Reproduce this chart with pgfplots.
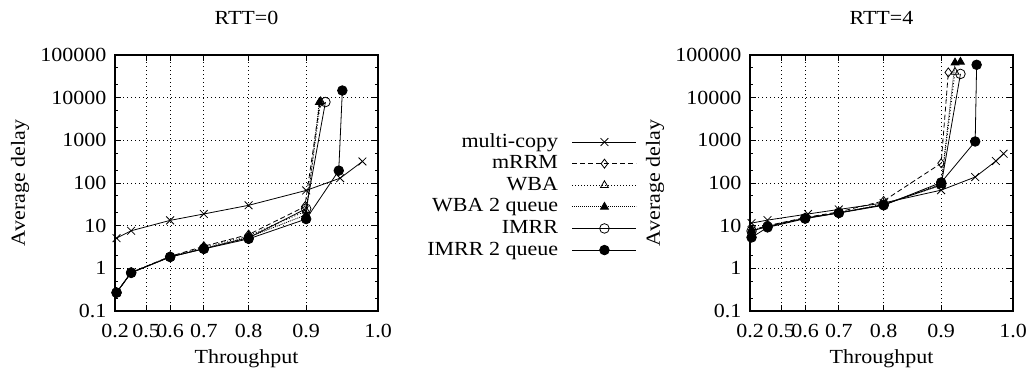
\documentclass[border=0pt]{standalone}
\usepackage{fontspec}
\setmainfont{Liberation Serif}[FakeStretch=1.1]
\usepackage{pgfplots}
\pgfplotsset{compat=1.18}

% line and mark styles of the six schedulers
\tikzset{
  mcopy/.style={black, line width=0.8bp, solid, mark=x, mark size=5.5bp},
  mrrm/.style={black, line width=0.8bp, dash pattern=on 5bp off 3bp, mark=diamond, mark size=4.5bp, mark options={solid}},
  wba/.style={black, line width=0.8bp, dash pattern=on 1bp off 2bp, mark=triangle, mark size=4.5bp, mark options={solid}},
  wbaq/.style={black, line width=0.8bp, dash pattern=on 1bp off 1bp, mark=triangle*, mark size=4.5bp, mark options={solid, fill=black}},
  imrr/.style={black, line width=0.8bp, solid, mark=o, mark size=4.8bp},
  imrrq/.style={black, line width=0.8bp, solid, mark=*, mark size=4.8bp, mark options={fill=black}},
}

% throughput axis is drawn on a cubic scale
\def\cubetrafo#1{\pgfmathparse{(#1)*(#1)*(#1)}}
\def\bigfont{\fontsize{20bp}{24bp}\selectfont}

\begin{document}
\begin{tikzpicture}
\path[use as bounding box] (0bp,0bp) rectangle (1028bp,379bp);

% ----------------------------- RTT = 0 -----------------------------
\begin{axis}[
  at={(115bp,68bp)}, anchor=south west,
  scale only axis, width=263bp, height=256bp,
  ymode=log,
  xmin=0.2, xmax=1.0, ymin=0.1, ymax=100000,
  x coord trafo/.code={\cubetrafo{#1}},
  xtick={0.2,0.5,0.6,0.7,0.8,0.9,1.0},
  xticklabels={0.2,0.5,0.6,0.7,0.8,0.9,1.0},
  ytick={0.1,1,10,100,1000,10000,100000},
  yticklabels={0.1,1,10,100,1000,10000,100000},
  minor ytick={0.2,0.5,2,5,20,50,200,500,2000,5000,20000,50000},
  xmajorgrids, ymajorgrids,
  major grid style={black, line width=0.7bp, dash pattern=on 1bp off 3bp},
  axis line style={line width=1.4bp},
  tick style={black, line width=0.8bp},
  major tick length=6bp, minor tick length=3bp,
  tick label style={font=\bigfont},
  xticklabel style={yshift=-10bp},
  yticklabel style={xshift=-5bp},
  label style={font=\bigfont},
  xlabel={Throughput},
  xlabel style={at={(axis description cs:0.5,0)}, anchor=center, yshift=-48bp},
  ylabel={Average delay},
  ylabel style={at={(axis description cs:0,0.5)}, anchor=center, yshift=95bp},
  title={RTT=0},
  title style={font=\bigfont, at={(axis description cs:0.5,1)}, anchor=center, yshift=31bp},
  legend image code/.code={
    \draw[mark repeat=2, mark phase=2, #1]
      plot coordinates {(0bp,0bp) (32bp,0bp) (64bp,0bp)};},
  legend style={at={(axis description cs:1.985,0.449)}, anchor=east,
    draw=none, fill=none, inner sep=0pt,
    legend cell align=right, legend plot pos=right,
    font=\bigfont,
    nodes={inner sep=0pt, text height=14bp, text depth=4bp},
    row sep=3.6bp, column sep=14bp},
]
\addplot[mcopy] coordinates {
  (0.24,5.1) (0.41,7.6) (0.6,13.3) (0.7,18.8) (0.8,30) (0.9,67) (0.95,130) (0.98,320)};
\addlegendentry{multi-copy}
\addplot[mrrm] coordinates {
  (0.24,0.27) (0.41,0.8) (0.6,1.9) (0.7,3.3) (0.8,6.2) (0.898,28) (0.921,7700)};
\addlegendentry{mRRM}
\addplot[wba] coordinates {
  (0.24,0.27) (0.41,0.8) (0.6,1.9) (0.7,3.1) (0.8,5.8) (0.9,22) (0.922,8200)};
\addlegendentry{WBA}
\addplot[wbaq] coordinates {
  (0.24,0.27) (0.41,0.8) (0.6,1.85) (0.7,2.9) (0.8,5.4) (0.9,18) (0.92,7800)};
\addlegendentry{WBA 2 queue}
\addplot[imrr] coordinates {
  (0.24,0.27) (0.41,0.8) (0.6,1.85) (0.7,2.9) (0.8,5.2) (0.9,25) (0.929,7900)};
\addlegendentry{IMRR}
\addplot[imrrq] coordinates {
  (0.24,0.27) (0.41,0.78) (0.6,1.85) (0.7,2.85) (0.8,4.9) (0.9,14.3) (0.948,195) (0.953,14700)};
\addlegendentry{IMRR 2 queue}
\end{axis}

% ----------------------------- RTT = 4 -----------------------------
\begin{axis}[
  at={(750bp,68bp)}, anchor=south west,
  scale only axis, width=263bp, height=256bp,
  ymode=log,
  xmin=0.2, xmax=1.0, ymin=0.1, ymax=100000,
  x coord trafo/.code={\cubetrafo{#1}},
  xtick={0.2,0.5,0.6,0.7,0.8,0.9,1.0},
  xticklabels={0.2,0.5,0.6,0.7,0.8,0.9,1.0},
  ytick={0.1,1,10,100,1000,10000,100000},
  yticklabels={0.1,1,10,100,1000,10000,100000},
  minor ytick={0.2,0.5,2,5,20,50,200,500,2000,5000,20000,50000},
  xmajorgrids, ymajorgrids,
  major grid style={black, line width=0.7bp, dash pattern=on 1bp off 3bp},
  axis line style={line width=1.4bp},
  tick style={black, line width=0.8bp},
  major tick length=6bp, minor tick length=3bp,
  tick label style={font=\bigfont},
  xticklabel style={yshift=-10bp},
  yticklabel style={xshift=-5bp},
  label style={font=\bigfont},
  xlabel={Throughput},
  xlabel style={at={(axis description cs:0.5,0)}, anchor=center, yshift=-48bp},
  ylabel={Average delay},
  ylabel style={at={(axis description cs:0,0.5)}, anchor=center, yshift=95bp},
  title={RTT=4},
  title style={font=\bigfont, at={(axis description cs:0.5,1)}, anchor=center, yshift=31bp},
]
\addplot[mcopy] coordinates {
  (0.24,11.5) (0.42,13.5) (0.61,18.8) (0.7,24) (0.8,34) (0.9,68) (0.95,138) (0.978,327) (0.988,486)};
\addplot[mrrm] coordinates {
  (0.24,7.8) (0.42,10) (0.6,15.5) (0.7,21) (0.8,38) (0.9,290) (0.911,39000)};
\addplot[wba] coordinates {
  (0.24,8) (0.42,9.8) (0.6,15) (0.7,20) (0.8,32) (0.9,88) (0.921,40000)};
\addplot[wbaq] coordinates {
  (0.24,7.5) (0.42,9.5) (0.6,15) (0.7,20) (0.8,31) (0.9,95) (0.921,66000) (0.929,69000)};
\addplot[imrr] coordinates {
  (0.24,7.5) (0.42,9.6) (0.6,15) (0.7,20) (0.8,31) (0.9,90) (0.929,36000)};
\addplot[imrrq] coordinates {
  (0.24,5.3) (0.42,9.1) (0.6,14.6) (0.7,19.8) (0.8,30) (0.9,103) (0.95,940) (0.952,59000)};
\end{axis}
\end{tikzpicture}
\end{document}
